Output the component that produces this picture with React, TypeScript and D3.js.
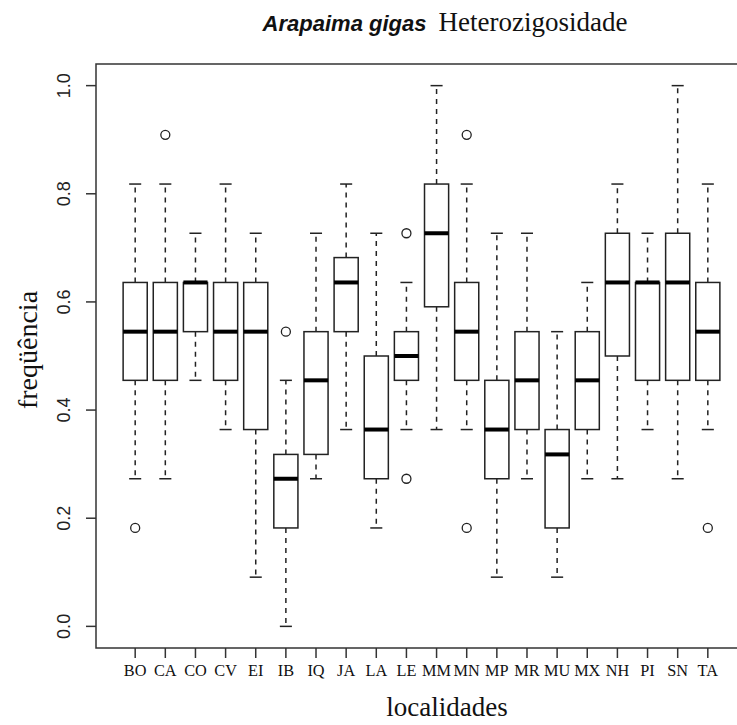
import React from "react";
import * as d3 from "d3";

// localities on the x axis
const categories = [
  "BO", "CA", "CO", "CV", "EI", "IB", "IQ", "JA", "LA", "LE",
  "MM", "MN", "MP", "MR", "MU", "MX", "NH", "PI", "SN", "TA",
];

// five-number summaries (heterozygosity, steps of 1/11)
const whiskerLow = [0.273, 0.273, 0.455, 0.364, 0.091, 0.0, 0.273, 0.364, 0.182, 0.364,
  0.364, 0.364, 0.091, 0.273, 0.091, 0.273, 0.273, 0.364, 0.273, 0.364];
const q1 = [0.455, 0.455, 0.545, 0.455, 0.364, 0.182, 0.318, 0.545, 0.273, 0.455,
  0.591, 0.455, 0.273, 0.364, 0.182, 0.364, 0.5, 0.455, 0.455, 0.455];
const median = [0.545, 0.545, 0.636, 0.545, 0.545, 0.273, 0.455, 0.636, 0.364, 0.5,
  0.727, 0.545, 0.364, 0.455, 0.318, 0.455, 0.636, 0.636, 0.636, 0.545];
const q3 = [0.636, 0.636, 0.636, 0.636, 0.636, 0.318, 0.545, 0.682, 0.5, 0.545,
  0.818, 0.636, 0.455, 0.545, 0.364, 0.545, 0.727, 0.636, 0.727, 0.636];
const whiskerHigh = [0.818, 0.818, 0.727, 0.818, 0.727, 0.455, 0.727, 0.818, 0.727, 0.636,
  1.0, 0.818, 0.727, 0.727, 0.545, 0.636, 0.818, 0.727, 1.0, 0.818];
const outliers: number[][] = [
  [0.182], [0.909], [], [], [], [0.545], [], [], [], [0.727, 0.273],
  [], [0.909, 0.182], [], [], [], [], [], [], [], [0.182],
];

const yTicks = [0, 0.2, 0.4, 0.6, 0.8, 1.0];

const W = 737;
const H = 725;
const margin = { left: 96, top: 64, right: -10, bottom: 77 };

export default function App() {
  const x = d3
    .scaleLinear()
    .domain([-0.3, 21.3])
    .range([margin.left, W - margin.right]);
  const y = d3
    .scaleLinear()
    .domain([-0.04, 1.04])
    .range([H - margin.bottom, margin.top]);

  const boxW = x(0.8) - x(0);
  const capW = boxW / 2;
  const ink = "#222";

  return (
    <svg
      width={W}
      height={H}
      style={{ position: "absolute", left: 0, top: 0, background: "#fff" }}
    >
      <rect width={W} height={H} fill="#fff" />

      {/* title */}
      <text x={445} y={31} textAnchor="middle" fill="#111">
        <tspan fontFamily="Liberation Sans, Arial, sans-serif" fontWeight="bold" fontStyle="italic" fontSize={22}>
          Arapaima gigas
        </tspan>
        <tspan fontFamily="Liberation Serif, Times New Roman, serif" fontSize={27} dx={12}>
          Heterozigosidade
        </tspan>
      </text>

      {/* frame */}
      <rect
        x={margin.left}
        y={margin.top}
        width={W - margin.right - margin.left}
        height={H - margin.bottom - margin.top}
        fill="none"
        stroke="#333"
        strokeWidth={1.5}
      />

      {/* boxes */}
      {categories.map((c, i) => {
        const cx = x(i + 1);
        return (
          <g key={c}>
            <line x1={cx} x2={cx} y1={y(q3[i])} y2={y(whiskerHigh[i])} stroke={ink} strokeWidth={1.5} strokeDasharray="5,5" />
            <line x1={cx} x2={cx} y1={y(q1[i])} y2={y(whiskerLow[i])} stroke={ink} strokeWidth={1.5} strokeDasharray="5,5" />
            <line x1={cx - capW / 2} x2={cx + capW / 2} y1={y(whiskerHigh[i])} y2={y(whiskerHigh[i])} stroke={ink} strokeWidth={1.5} />
            <line x1={cx - capW / 2} x2={cx + capW / 2} y1={y(whiskerLow[i])} y2={y(whiskerLow[i])} stroke={ink} strokeWidth={1.5} />
            <rect x={cx - boxW / 2} y={y(q3[i])} width={boxW} height={y(q1[i]) - y(q3[i])} fill="#fff" stroke={ink} strokeWidth={1.5} />
            <line x1={cx - boxW / 2} x2={cx + boxW / 2} y1={y(median[i])} y2={y(median[i])} stroke="#000" strokeWidth={4} />
            {outliers[i].map((v, j) => (
              <circle key={j} cx={cx} cy={y(v)} r={4.5} fill="none" stroke={ink} strokeWidth={1.3} />
            ))}
          </g>
        );
      })}

      {/* y axis */}
      {yTicks.map((t) => (
        <g key={t}>
          <line x1={margin.left - 10} x2={margin.left} y1={y(t)} y2={y(t)} stroke="#333" strokeWidth={1.5} />
          <text
            transform={`translate(70,${y(t)}) rotate(-90)`}
            textAnchor="middle"
            fontFamily="Liberation Sans, Arial, sans-serif"
            fontSize={18}
            fill="#222"
          >
            {t.toFixed(1)}
          </text>
        </g>
      ))}

      {/* x axis */}
      {categories.map((c, i) => (
        <g key={c}>
          <line x1={x(i + 1)} x2={x(i + 1)} y1={H - margin.bottom} y2={H - margin.bottom + 10} stroke="#333" strokeWidth={1.5} />
          <text
            x={x(i + 1)}
            y={676}
            textAnchor="middle"
            fontFamily="Liberation Serif, Times New Roman, serif"
            fontSize={16.3}
            fill="#111"
          >
            {c}
          </text>
        </g>
      ))}

      {/* axis titles */}
      <text x={447} y={716} textAnchor="middle" fontFamily="Liberation Serif, Times New Roman, serif" fontSize={27} fill="#111">
        localidades
      </text>
      <text
        transform={`translate(37,350) rotate(-90)`}
        textAnchor="middle"
        fontFamily="Liberation Serif, Times New Roman, serif"
        fontSize={28}
        fill="#111"
      >
        freqüência
      </text>
    </svg>
  );
}
